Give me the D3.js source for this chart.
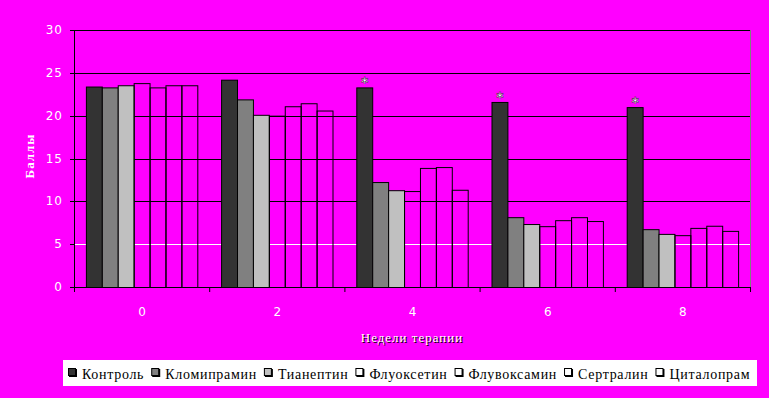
<!DOCTYPE html>
<meta charset="utf-8">
<style>
  body { margin: 0; background: #ff00ff; }
  svg { display: block; }
  .tick-label { fill: #fff; font-family: "DejaVu Sans", sans-serif; font-size: 12px; letter-spacing: 1px; }
  .axis-title { fill: #fff; font-family: "Liberation Serif", serif; font-size: 13px; letter-spacing: 1px; }
  .legend text { font-family: "Liberation Serif", serif; font-size: 14px; letter-spacing: 0.7px; fill: #000; }
</style>

<svg width="769" height="398"></svg>

<script src="https://d3js.org/d3.v7.min.js"></script>
<script>
  var categories = ["0", "2", "4", "6", "8"];
  var seriesNames = ["Контроль", "Кломипрамин", "Тианептин", "Флуоксетин", "Флувоксамин", "Сертралин", "Циталопрам"];
  var seriesFill = ["#333333", "#808080", "#c0c0c0", "none", "none", "none", "none"];

  var control      = [23.4, 24.2, 23.3, 21.6, 21.0];
  var clomipramine = [23.3, 21.9, 12.25, 8.15, 6.75];
  var tianeptine   = [23.55, 20.1, 11.3, 7.35, 6.2];
  var fluoxetine   = [23.8, 20.0, 11.2, 7.1, 6.05];
  var fluvoxamine  = [23.3, 21.1, 13.9, 7.8, 6.9];
  var sertraline   = [23.55, 21.45, 14.0, 8.15, 7.15];
  var citalopram   = [23.55, 20.6, 11.35, 7.7, 6.55];
  var significant  = [false, false, true, true, true];

  var yTicks = [0, 5, 10, 15, 20, 25, 30];

  var seriesValues = [control, clomipramine, tianeptine, fluoxetine, fluvoxamine, sertraline, citalopram];

  var svg = d3.select("svg");
  var plotLeft = 74, plotRight = 750, plotTop = 30, plotBottom = 287;

  var x0 = d3.scaleBand().domain(categories).range([plotLeft, plotRight]);
  var bw = x0.bandwidth();
  var x1 = d3.scaleBand().domain(seriesNames).range([bw * 0.088, bw * 0.912]);
  var y = d3.scaleLinear().domain([0, 30]).range([plotBottom, plotTop]);

  // gridlines (5 is white in the original)
  svg.append("g")
    .selectAll("line")
    .data(yTicks.filter(function(d) { return d > 0; }))
    .enter().append("line")
      .attr("x1", plotLeft).attr("x2", plotRight)
      .attr("y1", function(d) { return Math.round(y(d)) + 0.5; })
      .attr("y2", function(d) { return Math.round(y(d)) + 0.5; })
      .attr("stroke", function(d) { return d === 5 ? "#fff" : "#000"; })
      .attr("stroke-width", 1);

  // right border
  svg.append("line")
    .attr("x1", plotRight + 0.5).attr("x2", plotRight + 0.5)
    .attr("y1", plotTop).attr("y2", plotBottom)
    .attr("stroke", "#808080");

  // bars
  var groups = svg.append("g").selectAll("g")
    .data(categories)
    .enter().append("g")
      .attr("transform", function(d) { return "translate(" + x0(d) + ",0)"; });

  groups.selectAll("rect")
    .data(function(c, i) {
      return seriesNames.map(function(s, j) { return { s: s, j: j, v: seriesValues[j][i] }; });
    })
    .enter().append("rect")
      .attr("x", function(d) { return x1(d.s) + 0.5; })
      .attr("y", function(d) { return y(d.v) + 0.5; })
      .attr("width", x1.bandwidth())
      .attr("height", function(d) { return y(0) - y(d.v); })
      .attr("fill", function(d) { return seriesFill[d.j]; })
      .attr("stroke", "#000")
      .attr("stroke-width", 1);

  // asterisks over control bars
  svg.append("g").selectAll("text")
    .data(categories.filter(function(c, i) { return significant[i]; }))
    .enter().append("text")
      .attr("x", function(c) { return x0(c) + x1(seriesNames[0]) + x1.bandwidth() / 2 + 0.5; })
      .attr("y", function(c) { return y(control[categories.indexOf(c)]) - 0; })
      .attr("text-anchor", "middle")
      .attr("font-family", "DejaVu Sans, sans-serif")
      .attr("font-size", 14)
      .attr("font-weight", "bold")
      .attr("fill", "#fff")
      .attr("stroke", "#000")
      .attr("stroke-width", 0.4)
      .text("*");

  // axes lines
  svg.append("line")
    .attr("x1", plotLeft + 0.5).attr("x2", plotLeft + 0.5)
    .attr("y1", plotTop).attr("y2", plotBottom + 0.5)
    .attr("stroke", "#000");
  svg.append("line")
    .attr("x1", plotLeft).attr("x2", plotRight + 1)
    .attr("y1", plotBottom + 0.5).attr("y2", plotBottom + 0.5)
    .attr("stroke", "#000");

  // y ticks + labels
  var yt = svg.append("g").selectAll("g")
    .data(yTicks)
    .enter().append("g");
  yt.append("line")
    .attr("x1", plotLeft - 4).attr("x2", plotLeft)
    .attr("y1", function(d) { return Math.round(y(d)) + 0.5; })
    .attr("y2", function(d) { return Math.round(y(d)) + 0.5; })
    .attr("stroke", "#000");
  yt.append("text")
    .attr("class", "tick-label")
    .attr("x", 63)
    .attr("y", function(d) { return y(d) + 4; })
    .attr("text-anchor", "end")
    .text(function(d) { return d; });

  // x ticks (category boundaries) + labels
  svg.append("g").selectAll("line")
    .data(categories.concat(["end"]))
    .enter().append("line")
      .attr("x1", function(d, i) { return plotLeft + i * bw + 0.5; })
      .attr("x2", function(d, i) { return plotLeft + i * bw + 0.5; })
      .attr("y1", plotBottom).attr("y2", plotBottom + 5)
      .attr("stroke", "#000");

  svg.append("g").selectAll("text")
    .data(categories)
    .enter().append("text")
      .attr("class", "tick-label")
      .attr("x", function(d) { return x0(d) + bw / 2 + 1; })
      .attr("y", 316)
      .attr("text-anchor", "middle")
      .text(function(d) { return d; });

  // axis titles
  svg.append("text")
    .attr("class", "axis-title")
    .attr("transform", "translate(34,156) rotate(-90)")
    .attr("text-anchor", "middle")
    .attr("font-weight", "bold")
    .text("Баллы");

  svg.append("text")
    .attr("class", "axis-title")
    .attr("x", 412)
    .attr("y", 342)
    .attr("text-anchor", "middle")
    .style("text-shadow", "1px 1px 0 #000")
    .text("Недели терапии");

  // legend
  var legend = svg.append("g").attr("class", "legend");
  legend.append("rect")
    .attr("x", 63).attr("y", 360)
    .attr("width", 694).attr("height", 26)
    .attr("fill", "#fff");

  var cx = 68;
  seriesNames.forEach(function(name, j) {
    legend.append("rect")
      .attr("x", cx + 1).attr("y", 369)
      .attr("width", 8).attr("height", 8)
      .attr("fill", "#000");
    legend.append("rect")
      .attr("x", cx + 0.5).attr("y", 368.5)
      .attr("width", 7).attr("height", 7)
      .attr("fill", seriesFill[j] === "none" ? "#fff" : seriesFill[j])
      .attr("stroke", "#000");
    var t = legend.append("text")
      .attr("x", cx + 14)
      .attr("y", 379)
      .text(name);
    cx += 14 + t.node().getComputedTextLength() + 7;
  });
</script>
